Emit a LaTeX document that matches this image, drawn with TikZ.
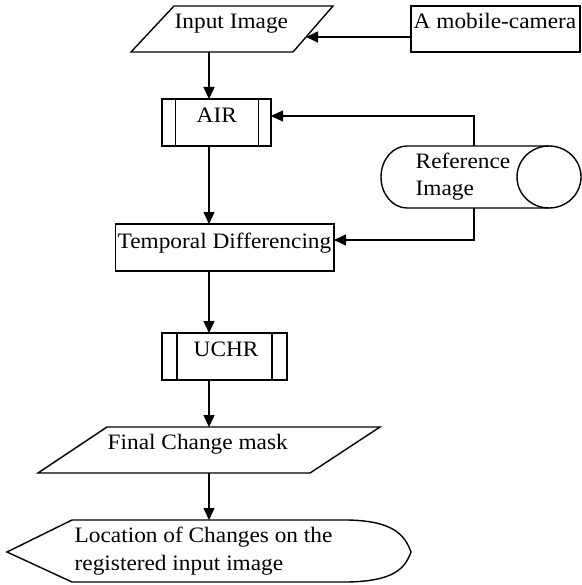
\documentclass[tikz,border=0pt]{standalone}
\usepackage{fontspec}
\setmainfont{Liberation Serif}[FakeStretch=1.06]
\usetikzlibrary{arrows.meta}
\begin{document}
\begin{tikzpicture}[x=1pt,y=-1pt,line width=1.4pt,
  >={Triangle[length=12pt,width=11pt]},
  lbl/.style={font=\fontsize{22}{27}\selectfont,inner sep=0pt,anchor=base west},
  shp/.style={draw=black,line width=1.4pt},
  conn/.style={->,line width=1.4pt}]
\useasboundingbox (0,0) rectangle (581,585);
% Input Image (parallelogram)
\draw[shp] (174,6) -- (333,6) -- (293,52) -- (131,52) -- cycle;
\node[lbl] (tinp) at (174,29) {Input Image};
\coordinate (inpB) at (209,52);
\coordinate (inpR) at (306,37);
% mobile camera
\draw[shp] (411,6) rectangle (580,52);
\node[lbl] (tcam) at (413,29) {A mobile-camera};
\coordinate (camL) at (411,37);
% AIR
\draw[shp] (162,99) rectangle (271,146);
\draw[shp] (175.5,99) -- (175.5,146) (258.5,99) -- (258.5,146);
\node[lbl] (tair) at (196,123) {AIR};
\coordinate (airT) at (209,99);
\coordinate (airB) at (209,146);
\coordinate (airR) at (271,116);
% Reference Image (horizontal cylinder)
\draw[shp] (549,146) -- (407,146) .. controls (392.6,146) and (381,160) .. (381,177)
  .. controls (381,194) and (392.6,208) .. (407,208) -- (549,208);
\draw[shp] (549,177) ellipse[x radius=32,y radius=31];
\node[lbl] (tref1) at (415,169) {Reference};
\node[lbl] (tref2) at (415,196) {Image};
\coordinate (refT) at (474,146);
\coordinate (refB) at (474,208);
% Temporal Differencing
\draw[shp] (115.5,224) rectangle (334,271);
\node[lbl] (ttd) at (117,248) {Temporal Differencing};
\coordinate (tdT) at (209,224);
\coordinate (tdB) at (209,271);
\coordinate (tdR) at (334,240);
% UCHR
\draw[shp] (162,333) rectangle (287,380);
\draw[shp] (177,333) -- (177,380) (272,333) -- (272,380);
\node[lbl] (tuchr) at (193,356) {UCHR};
\coordinate (uT) at (209,333);
\coordinate (uB) at (209,380);
% Final Change mask
\draw[shp] (107,427) -- (380,427) -- (310,473) -- (38,473) -- cycle;
\node[lbl] (tfcm) at (107,449) {Final Change mask};
\coordinate (fT) at (209,427);
\coordinate (fB) at (209,473);
% Display
\draw[shp] (7,552) -- (72,520) -- (348,520) .. controls (395,521) and (405,536) .. (411,552)
  .. controls (405,568) and (395,581) .. (348,582) -- (72,582) -- cycle;
\node[lbl] (tloc1) at (74,542) {Location of Changes on the};
\node[lbl] (tloc2) at (74,570) {registered input image};
\coordinate (dT) at (209,520);
% connectors
\draw[conn] (camL) -- (inpR);
\draw[conn] (inpB) -- (airT);
\draw[conn] (refT) |- (airR);
\draw[conn] (airB) -- (tdT);
\draw[conn] (refB) |- (tdR);
\draw[conn] (tdB) -- (uT);
\draw[conn] (uB) -- (fT);
\draw[conn] (fB) -- (dT);
\end{tikzpicture}
\end{document}
